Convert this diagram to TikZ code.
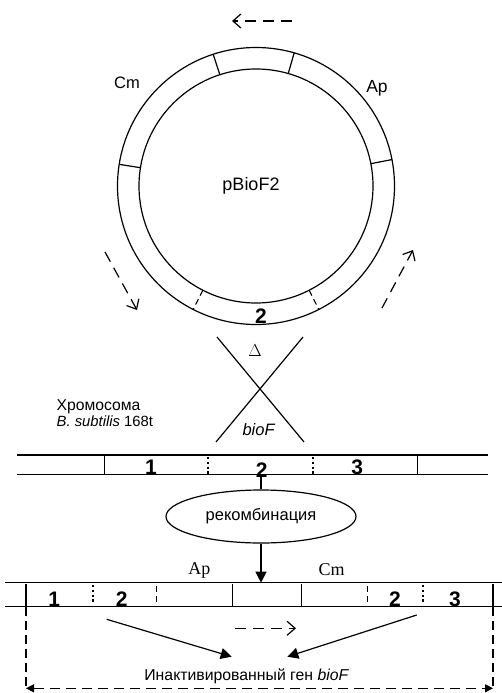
\documentclass[tikz,border=0pt]{standalone}
\usepackage{fontspec}
\setmainfont{Liberation Sans}
\newfontfamily\timesfont{Liberation Serif}
\usetikzlibrary{arrows.meta,shapes.geometric}
\tikzset{
  dna/.style={draw=black, line width=1.2pt},
  lab/.style={font=\fontsize{16.5}{16.5}\selectfont, inner sep=0pt},
  serlab/.style={font=\timesfont\fontsize{18}{18}\selectfont, inner sep=0pt},
  num/.style={font=\fontsize{21}{21}\selectfont\bfseries, inner sep=0pt},
  dotsep/.style={line width=1.8pt, dash pattern=on 2.2pt off 2.6pt},
  dashsep/.style={line width=1.1pt, dash pattern=on 6pt off 4pt},
  dirarrow/.style={line width=1.2pt, dash pattern=on 11pt off 7pt, -{Straight Barb[length=8pt,width=14pt]}},
  solidarrow/.style={line width=1.2pt, -{Triangle[length=11pt,width=11pt]}},
  spanarrow/.style={line width=1.2pt, dash pattern=on 10pt off 6pt, {Triangle[length=8pt,width=8pt]}-{Triangle[length=8pt,width=8pt]}},
  recbox/.style={draw, ellipse, line width=1.2pt, minimum width=190pt, minimum height=53pt, inner sep=0pt}
}
\begin{document}
\begin{tikzpicture}[x=1pt,y=-1pt]
  \useasboundingbox (0,0) rectangle (502,693);

  % plasmid ring
  \def\rOut{138.5}
  \def\rIn{117}
  \coordinate (P) at (256,186);
  \draw[dna] (P) circle (\rOut pt);
  \draw[dna] (P) circle (\rIn pt);
  \foreach \a in {11,74,108,171}
    \draw[dna] (P) ++(\a:\rIn pt) -- ++(\a:21.5pt);
  \foreach \a in {243,297}
    \draw[dashsep] (P) ++(\a:\rIn pt) -- ++(\a:21.5pt);

  \node[lab] (plasmid) at (251,186) {\fontsize{18}{18}\selectfont pBioF2};
  \node[lab] (cmtop) at (127,83) {Cm};
  \node[lab] (aptop) at (377,88) {\fontsize{17.5}{17.5}\selectfont Ap};
  \node[num] (ringtwo) at (261,316) {2};

  % direction of the ring
  \coordinate (t1) at (292,21);
  \coordinate (t2) at (232,21);
  \coordinate (l1) at (105,252);
  \coordinate (l2) at (137,310);
  \coordinate (r1) at (382,308);
  \coordinate (r2) at (413,250);
  \draw[dirarrow] (t1) -- (t2);
  \draw[dirarrow] (l1) -- (l2);
  \draw[dirarrow] (r1) -- (r2);

  % crossover
  \coordinate (xa) at (217,337);
  \coordinate (xb) at (303,337);
  \coordinate (xc) at (216,442);
  \coordinate (xd) at (304,442);
  \draw[dna] (xa) -- (xd);
  \draw[dna] (xb) -- (xc);
  \node[serlab] (delta) at (255,351) {$\Delta$};
  \node[lab] (biof) at (259,430) {\textit{bioF}};

  \node[lab, align=left, anchor=west, font=\fontsize{14.8}{16}\selectfont] (chrom) at (56.5,413)
    {{\fontsize{15.7}{16}\selectfont Хромосома}\\\textit{B. subtilis} 168t};

  % chromosome
  \draw[dna] (17,455) -- (488,455);
  \draw[dna] (17,474.7) -- (488,474.7);
  \foreach \x in {104.3,417.7}
    \draw[dna] (\x,455) -- (\x,474.7);
  \foreach \x in {208.3,313.3}
    \draw[dotsep] (\x,457) -- (\x,474.7);
  \node[num] (c1) at (151,467) {1};
  \node[num] (c2) at (261.7,470) {2};
  \node[num] (c3) at (357.3,467) {3};

  \coordinate (chrbot) at (261,474.7);
  \node[recbox] (rec) at (261,516.5) {\fontsize{16.5}{16.5}\selectfont рекомбинация};
  \draw[dna] (chrbot) -- (rec.north);
  \coordinate (mutop) at (261,582.7);
  \draw[solidarrow] (rec.south) -- (mutop);

  % recombinant chromosome
  \draw[dna] (5,582.7) -- (502,582.7);
  \draw[dna] (5,606.5) -- (502,606.5);
  \foreach \x in {26,232.3,301.7,493}
    \draw[dna] (\x,584) -- (\x,606.5);
  \foreach \x in {156.7,367.7}
    \draw[dashsep] (\x,586) -- (\x,606.5);
  \foreach \x in {92.7,422.7}
    \draw[dotsep] (\x,585) -- (\x,604);
  \node[num] (m1) at (54.3,599.5) {1};
  \node[num] (m2) at (121.7,599.5) {2};
  \node[num] (m3) at (395,599.5) {2};
  \node[num] (m4) at (455,599.5) {3};
  \node[serlab] (apbot) at (199.3,570) {Ap};
  \node[serlab] (cmbot) at (331.7,570) {Cm};

  \coordinate (a1) at (106.7,619.3);
  \coordinate (a2) at (231.7,656.7);
  \coordinate (b1) at (416.7,615);
  \coordinate (b2) at (287.3,656.7);
  \draw[solidarrow] (a1) -- (a2);
  \draw[solidarrow] (b1) -- (b2);
  \coordinate (d1) at (235,628.3);
  \coordinate (d2) at (296,628.3);
  \draw[dirarrow] (d1) -- (d2);

  % inactivated gene span
  \coordinate (sL) at (26,688.3);
  \coordinate (sR) at (493,688.3);
  \draw[dna, dash pattern=on 9pt off 5pt] (26,606.5) -- (sL);
  \draw[dna, dash pattern=on 9pt off 5pt] (493,606.5) -- (sR);
  \draw[spanarrow] (sL) -- (sR);
  \node[lab, font=\fontsize{15.8}{15.8}\selectfont] (gene) at (246.7,676.5)
    {Инактивированный ген \textit{bioF}};
\end{tikzpicture}
\end{document}
